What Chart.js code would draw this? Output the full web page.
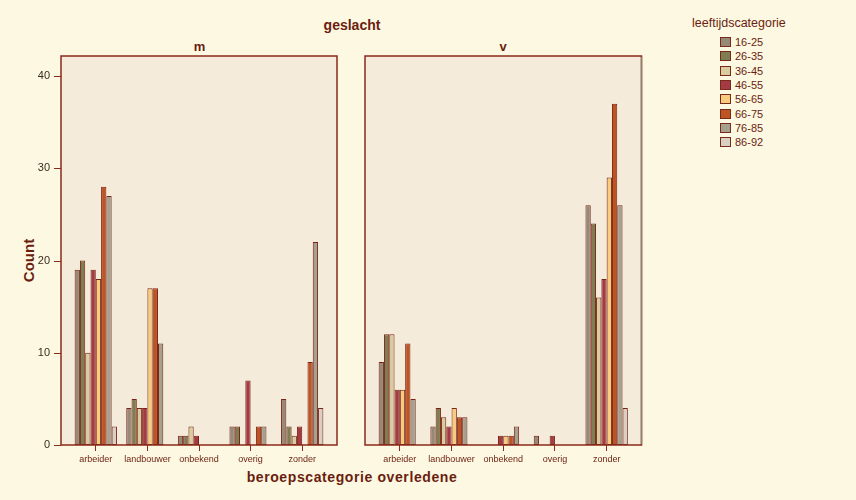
<!DOCTYPE html>
<html>
<head>
<meta charset="utf-8">
<script src="https://cdn.jsdelivr.net/npm/chart.js@4"></script>
<style>
  html,body{margin:0;padding:0;background:#fcf8e1;width:856px;height:500px;overflow:hidden;font-family:"Liberation Sans",Arial,sans-serif;}
  .t{position:absolute;color:#6b1d10;font-weight:bold;white-space:nowrap;}
  canvas{position:absolute;}
  #legend{position:absolute;left:692px;top:16px;color:#6b1d10;font-size:12.5px;}
  #legend .title{margin-left:0px;margin-bottom:5px;}
  #legend .row{display:flex;align-items:center;height:14.3px;margin-left:28px;font-size:11px;}
  #legend .box{width:11px;height:10px;border:1px solid #7a2a1a;box-sizing:border-box;margin-right:4px;}
</style>
</head>
<body>
<div class="t" style="left:0;width:704px;top:17px;text-align:center;font-size:14px;">geslacht</div>
<div class="t" style="left:61px;width:277px;top:39px;text-align:center;font-size:13px;">m</div>
<div class="t" style="left:365px;width:276px;top:39px;text-align:center;font-size:13px;">v</div>
<div class="t" style="left:-2px;top:252px;font-size:15px;transform:rotate(-90deg);transform-origin:center;width:60px;text-align:center;">Count</div>
<div class="t" style="left:0;width:704px;top:469px;text-align:center;font-size:14px;letter-spacing:0.6px;">beroepscategorie overledene</div>
<div id="legend"></div>
<canvas id="cm" width="345" height="420" style="left:0;top:50px;"></canvas>
<canvas id="cv" width="292" height="420" style="left:358px;top:50px;"></canvas>
<script>
const categories = ["arbeider","landbouwer","onbekend","overig","zonder"];
const ageGroups = ["16-25","26-35","36-45","46-55","56-65","66-75","76-85","86-92"];
const yTicks = [0,10,20,30,40];
// values per age group, across categories (m = mannen, v = vrouwen)
const m_16_25 = [19,4,1,2,5];
const m_26_35 = [20,5,1,2,2];
const m_36_45 = [10,4,2,0,1];
const m_46_55 = [19,4,1,7,2];
const m_56_65 = [18,17,0,0,0];
const m_66_75 = [28,17,0,2,9];
const m_76_85 = [27,11,0,2,22];
const m_86_92 = [2,0,0,0,4];
const v_16_25 = [9,2,0,1,26];
const v_26_35 = [12,4,0,0,24];
const v_36_45 = [12,3,0,0,16];
const v_46_55 = [6,2,1,1,18];
const v_56_65 = [6,4,1,0,29];
const v_66_75 = [11,3,1,0,37];
const v_76_85 = [5,3,2,0,26];
const v_86_92 = [0,0,0,0,4];

const colors = ["#958a78","#7f7e52","#d9cc9e","#a33a44","#f8cc7c","#bd5523","#a4a28e","#d9d0c4"];
const mSeries = [m_16_25,m_26_35,m_36_45,m_46_55,m_56_65,m_66_75,m_76_85,m_86_92];
const vSeries = [v_16_25,v_26_35,v_36_45,v_46_55,v_56_65,v_66_75,v_76_85,v_86_92];

const DARK = "#6b1d10";
const FRAME = "#8a2a1a";
const FPAD_L = 9;   // frame extends beyond category area
const FPAD_R = 9;
Chart.defaults.font.family = '"Liberation Sans", Arial, sans-serif';

// legend
const lg = document.getElementById('legend');
lg.innerHTML = '<div class="title">leeftijdscategorie</div>' +
  ageGroups.map((g,i)=>`<div class="row"><div class="box" style="background:${colors[i]}"></div>${g}</div>`).join('');

const framePlugin = {
  id:'frame',
  beforeDatasetsDraw(c){
    const {ctx, chartArea:a} = c;
    ctx.save(); ctx.fillStyle = '#f5ebdb';
    ctx.fillRect(a.left-FPAD_L,a.top,a.right-a.left+FPAD_L+FPAD_R,a.bottom-a.top); ctx.restore();
  },
  afterDatasetsDraw(c){
    const {ctx, chartArea:a} = c;
    ctx.save(); ctx.strokeStyle = FRAME; ctx.lineWidth = 1.5;
    const L = a.left-FPAD_L, R = a.right+FPAD_R;
    ctx.strokeRect(L,a.top,R-L,a.bottom-a.top);
    if (c.options.rightEdgeColor) {
      ctx.strokeStyle = c.options.rightEdgeColor;
      ctx.beginPath(); ctx.moveTo(R,a.top+1); ctx.lineTo(R,a.bottom-1); ctx.stroke();
    }
    if (c.options.showYTicks) {
      const ys = c.scales.y;
      ctx.strokeStyle = FRAME;
      ctx.lineWidth = 1;
      ys.ticks.forEach(t=>{
        const y = Math.round(ys.getPixelForValue(t.value))+0.5;
        ctx.beginPath(); ctx.moveTo(L-7,y); ctx.lineTo(L,y); ctx.stroke();
      });
    }
    ctx.restore();
  }
};

function makeChart(id, series, showY, padding, rightEdgeColor){
  return new Chart(document.getElementById(id), {
    type:'bar',
    data:{
      labels: categories,
      datasets: series.map((d,i)=>({
        label: ageGroups[i],
        data: d,
        backgroundColor: colors[i],
        borderColor: "#7a2418",
        borderWidth: ctx => (ctx.raw === 0 ? 0 : 1),
        borderSkipped: false,
        categoryPercentage: 0.82,
        barPercentage: 1.0
      }))
    },
    options:{
      responsive:false,
      animation:false,
      showYTicks: showY,
      rightEdgeColor: rightEdgeColor,
      layout:{padding: padding},
      plugins:{legend:{display:false}, tooltip:{enabled:false}},
      scales:{
        x:{
          grid:{display:true, offset:false, drawOnChartArea:false, drawTicks:true, tickLength:6, color:FRAME},
          border:{display:false},
          ticks:{color:DARK, font:{size:9}, padding:3, maxRotation:0, autoSkip:false},
          afterFit(s){ s.height = 25; s.paddingLeft = 0; s.paddingRight = 0; }
        },
        y:{
          display: showY ? true : false,
          min:0, max:42.17,
          afterBuildTicks(s){ s.ticks = yTicks.map(v=>({value:v})); },
          grid:{display:false, drawTicks:false},
          border:{display:false},
          ticks:{color:'#3b2b20', font:{size:11}, padding:20},
          afterFit(s){ if (showY) s.width = 70; s.paddingTop = 0; s.paddingBottom = 0; }
        }
      }
    },
    plugins:[framePlugin]
  });
}
makeChart('cm', mSeries, true, {top:6, right:17, left:0, bottom:0}, null);
makeChart('cv', vSeries, false, {top:6, right:17.5, left:16, bottom:0}, '#8c8670');
</script>
</body>
</html>
